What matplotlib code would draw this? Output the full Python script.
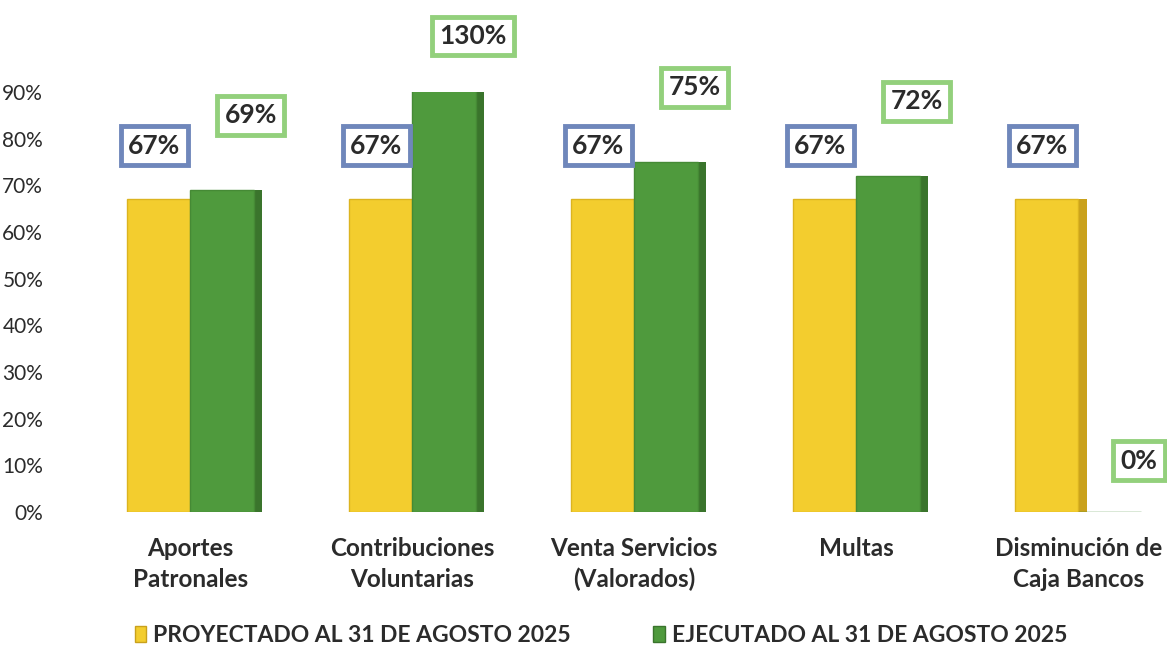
import matplotlib.pyplot as plt
import numpy as np
from matplotlib.patches import Patch

categories = [
    "Aportes\nPatronales",
    "Contribuciones\nVoluntarias",
    "Venta Servicios\n(Valorados)",
    "Multas",
    "Disminución de\nCaja Bancos",
]
proyectado = [0.67, 0.67, 0.67, 0.67, 0.67]
ejecutado = [0.69, 1.30, 0.75, 0.72, 0.00]
series_names = ["PROYECTADO AL 31 DE AGOSTO 2025", "EJECUTADO AL 31 DE AGOSTO 2025"]

YELLOW = "#f3cd2e"
YELLOW_SIDE = "#c9a11c"
GREEN = "#4f9a3d"
GREEN_SIDE = "#3a742c"
BLUE_BOX = "#6f87bb"
GREEN_BOX = "#93d07c"
TEXT = "#2b2b2b"

plt.rcParams["font.family"] = ["Lato", "DejaVu Sans"]

fig = plt.figure(figsize=(11.67, 6.5), dpi=100)
ax = fig.add_axes([0.068, 0.2123, 0.932, 0.6462])

x = np.arange(len(categories))
width = 0.285
side = 0.045
ymax = 0.9

# side faces first, fronts on top
ax.bar(x - width / 2 + width / 2 + side / 2 - 0.005, proyectado, side, color=YELLOW_SIDE, linewidth=0)
ax.bar(x - width / 2, proyectado, width, color=YELLOW, edgecolor="#dcb420", linewidth=1.0)
ax.bar(x + width + side / 2 - 0.005, ejecutado, side, color=GREEN_SIDE, linewidth=0)
ax.bar(x + width / 2, ejecutado, width, color=GREEN, edgecolor="#458a35", linewidth=1.0)

box_kw = dict(ha="center", va="center", fontsize=19, fontweight="bold", color=TEXT)
for i, v in enumerate(proyectado):
    ax.text(x[i] - width / 2 - 0.02, min(v, ymax) + 0.115, f"{v:.0%}",
            bbox=dict(boxstyle="square,pad=0.28", fc="white", ec=BLUE_BOX, lw=3.5), **box_kw)
for i, v in enumerate(ejecutado):
    off = 0.16 if v > 0 else 0.11
    ax.text(x[i] + width / 2 + 0.13, min(min(v, ymax) + off, 1.02), f"{v:.0%}",
            bbox=dict(boxstyle="square,pad=0.28", fc="white", ec=GREEN_BOX, lw=3.5), **box_kw)

ax.set_xlim(-0.5, 4.4)
ax.set_ylim(0, ymax)
ax.set_yticks(np.arange(0, 0.91, 0.1))
ax.set_yticklabels([f"{t:.0%}" for t in np.arange(0, 0.91, 0.1)], fontsize=15, color=TEXT)
ax.set_xticks(x)
ax.set_xticklabels(categories, fontsize=17.5, fontweight="bold", color=TEXT, linespacing=1.4)
ax.tick_params(axis="both", length=0)
ax.tick_params(axis="y", pad=26)
ax.tick_params(axis="x", pad=18)
for s in ax.spines.values():
    s.set_visible(False)

handles = [Patch(facecolor=YELLOW, edgecolor=YELLOW_SIDE), Patch(facecolor=GREEN, edgecolor=GREEN_SIDE)]
fig.legend(handles, series_names, loc="center", bbox_to_anchor=(0.515, 0.022), ncol=2,
           frameon=False, prop={"weight": "bold", "size": 16.5}, handlelength=0.5,
           handleheight=0.7, handletextpad=0.3, columnspacing=3.6, labelcolor=TEXT)

fig.savefig("out.png", dpi=100)
